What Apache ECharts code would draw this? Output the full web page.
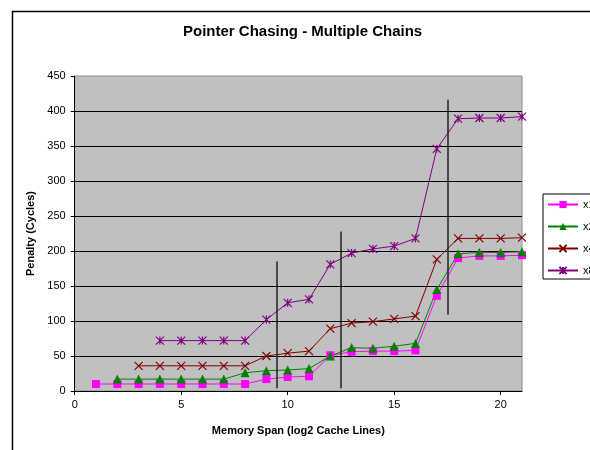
<!DOCTYPE html>
<html>
<head>
<meta charset="utf-8">
<script src="https://cdn.jsdelivr.net/npm/echarts@6/dist/echarts.min.js"></script>
<style>
html,body{margin:0;padding:0;background:#fff;}
#c{width:590px;height:450px;}
</style>
</head>
<body>
<div id="c"></div>
<script>
const spans = [1,2,3,4,5,6,7,8,9,10,11,12,13,14,15,16,17,18,19,20,21];
const x1 = [10,10,10,10,10,10,10,10,17,20,21,51,56,57,57,58,136,190,193,193,194];
const x2 = [null,17,17,17,17,17,17,26,29,30,32,50,62,61,64,68,145,196,198,198,199];
const x4 = [null,null,36,36,36,36,36,36,50,54,57,89,97,99,103,107,188,218,218,218,219];
const x8 = [null,null,null,72,72,72,72,72,102,126,131,181,197,203,207,218,346,389,390,390,392];
const seriesNames = ['x1','x2','x4','x8'];
const markerX = [9.5, 12.5, 17.5];
const markerLow = [4, 4, 109];
const markerHigh = [185, 228, 416];
const xTicks = [0,5,10,15,20];

function pairs(vals){
  const out = [];
  vals.forEach((v,i)=>{ if(v!==null) out.push([spans[i], v]); });
  return out;
}
const FONT = 'Liberation Sans, Arial, sans-serif';
const crossPath = 'path://M0,0L10,10M10,0L0,10';
const starPath = 'path://M0,0L10,10M10,0L0,10M5,0L5,10';

const chart = echarts.init(document.getElementById('c'), null, {renderer:'canvas'});
const mk = (name, vals, color, symbol, size, stroke) => ({
  name, type:'line', data: pairs(vals), symbol, symbolSize: size,
  lineStyle:{color, width:1},
  itemStyle: stroke ? {color:'rgba(0,0,0,0)', borderColor:color, borderWidth:1.2} : {color, borderWidth:0},
  emphasis:{disabled:true}, animation:false, z: 3
});
const option = {
  animation:false,
  backgroundColor:'#fff',
  textStyle:{fontFamily:FONT},
  graphic:[
    {type:'rect', left:10, top:9, shape:{width:620, height:480}, style:{fill:'none', stroke:'#000', lineWidth:1.5}, silent:true, z:-1},
    {type:'text', left:'center', top:0, silent:true, style:{text:''}}
  ],
  title:{text:'Pointer Chasing - Multiple Chains', left:183, top:24, padding:0,
    textStyle:{fontFamily:FONT, fontSize:15, fontWeight:'bold', color:'#000'}},
  grid:{left:74.7, right:68, top:76, bottom:59, show:true, backgroundColor:'#C0C0C0', borderColor:'#8c8c8c', borderWidth:1},
  legend:{orient:'vertical', left:543, top:194, padding:[5,20,3,4], itemWidth:30, itemHeight:9, itemGap:11,
    borderColor:'#000', borderWidth:1, backgroundColor:'#fff',
    textStyle:{fontFamily:FONT, fontSize:11, color:'#000'}, data: seriesNames},
  xAxis:{type:'value', min:0, max:21, interval:5,
    name:'Memory Span (log2 Cache Lines)', nameLocation:'middle', nameGap:34,
    nameTextStyle:{fontFamily:FONT, fontSize:11, fontWeight:'bold', color:'#000'},
    axisLine:{show:true, lineStyle:{color:'#000', width:1}},
    axisTick:{show:true, length:4, inside:false, customValues:xTicks, lineStyle:{color:'#000'}},
    axisLabel:{customValues:xTicks, margin:8, fontFamily:FONT, fontSize:11, color:'#000'},
    splitLine:{show:false}},
  yAxis:{type:'value', min:0, max:450, interval:50,
    name:'Penalty (Cycles)', nameLocation:'middle', nameGap:35,
    nameTextStyle:{fontFamily:FONT, fontSize:11, fontWeight:'bold', color:'#000'},
    axisLine:{show:true, lineStyle:{color:'#000', width:1}},
    axisTick:{show:true, length:4, lineStyle:{color:'#000'}},
    axisLabel:{margin:9, fontFamily:FONT, fontSize:11, color:'#000'},
    splitLine:{show:true, showMaxLine:false, lineStyle:{color:'#000', width:1}}},
  series:[
    mk('x1', x1, '#FF00FF', 'rect', 8, false),
    mk('x2', x2, '#008000', 'triangle', 9, false),
    mk('x4', x4, '#800000', crossPath, 8, true),
    mk('x8', x8, '#800080', starPath, 8, true),
    {type:'line', data:[], silent:true, animation:false,
      markLine:{symbol:['none','none'], silent:true, label:{show:false}, animation:false,
        lineStyle:{color:'#222', width:1.5, type:'solid'},
        data: markerX.map((x,i)=>[{coord:[x, markerLow[i]]},{coord:[x, markerHigh[i]]}])}}
  ]
};
chart.setOption(option);
</script>
</body>
</html>
